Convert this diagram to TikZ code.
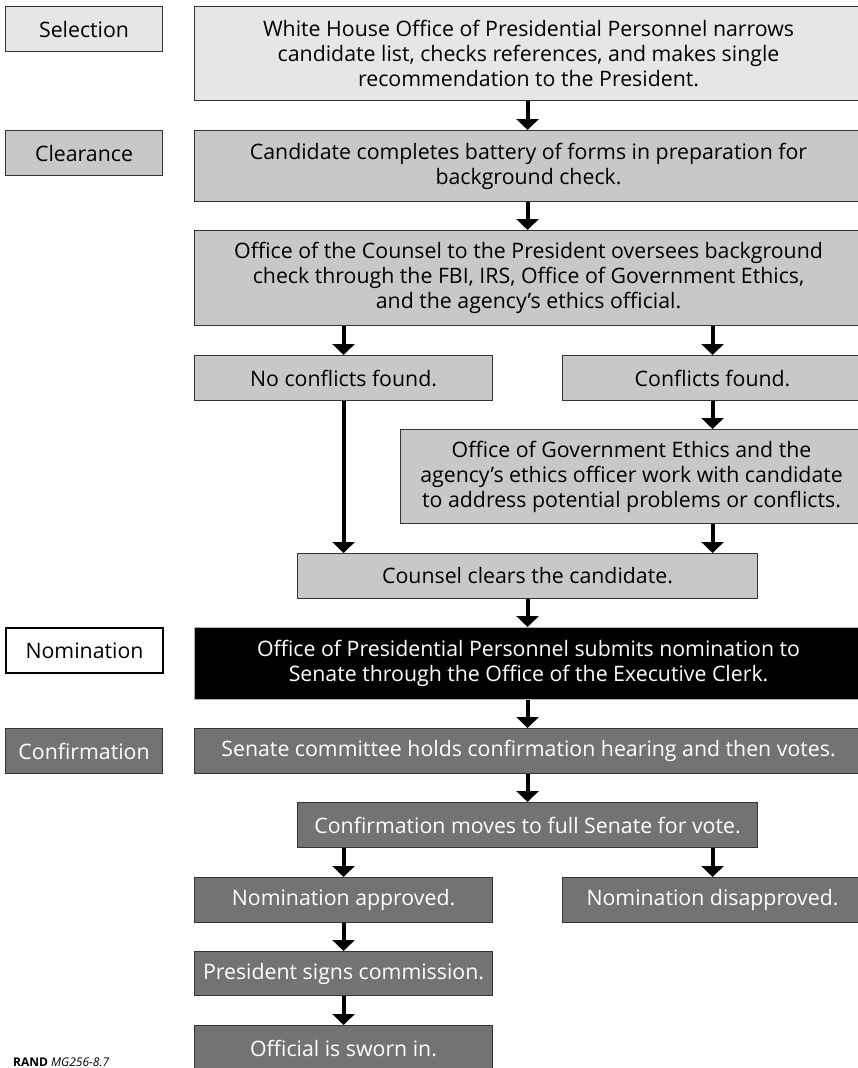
\documentclass[tikz,border=0pt]{standalone}
\usepackage{fontspec}
\setmainfont{Open Sans}
\usetikzlibrary{arrows.meta}
\definecolor{selfill}{HTML}{E6E6E6}
\definecolor{clrfill}{HTML}{C8C8C8}
\definecolor{cnffill}{HTML}{737373}
\definecolor{edge}{HTML}{333333}
\tikzset{
  box/.style={draw=edge, line width=1.1pt, inner sep=0pt, align=center, anchor=north west,
    font=\fontsize{21.3}{25}\selectfont},
  selbox/.style={box, fill=selfill},
  clrbox/.style={box, fill=clrfill},
  nombox/.style={box, fill=black, draw=gray!60, text=white},
  cnfbox/.style={box, fill=cnffill, text=white},
  nomlabel/.style={box, fill=white, draw=black, line width=2pt},
  arr/.style={line width=4pt, -{Triangle[width=22pt,length=11pt]}}
}
\begin{document}
\begin{tikzpicture}[x=1pt,y=-1pt]
\useasboundingbox (0,0) rectangle (858,1068);
% stage labels
\node[selbox, minimum width=157, minimum height=45] (selL) at (5,6) {Selection};
\node[clrbox, minimum width=157, minimum height=45] (clrL) at (5,130) {Clearance};
\node[nomlabel, minimum width=157, minimum height=45] (nomL) at (5,627) {Nomination};
\node[cnfbox, minimum width=157, minimum height=45] (cnfL) at (5,728) {Confirmation};
% main boxes
\node[selbox, minimum width=668, minimum height=94] (selM) at (194,6)
  {White House Office of Presidential Personnel narrows\\candidate list, checks references, and makes single\\recommendation to the President.};
\node[clrbox, minimum width=668, minimum height=71] (clrM) at (194,130)
  {Candidate completes battery of forms in preparation for\\background check.};
\node[clrbox, minimum width=668, minimum height=95] (coun) at (194,230)
  {Office of the Counsel to the President oversees background\\check through the FBI, IRS, Office of Government Ethics,\\and the agency’s ethics official.};
\node[clrbox, minimum width=298, minimum height=45] (noc) at (194,355) {No conflicts found.};
\node[clrbox, minimum width=300, minimum height=45] (conf) at (562,355) {Conflicts found.};
\node[clrbox, minimum width=462, minimum height=94] (oge) at (400,429)
  {Office of Government Ethics and the\\agency’s ethics officer work with candidate\\to address potential problems or conflicts.};
\node[clrbox, minimum width=460, minimum height=45] (clear) at (297,553) {Counsel clears the candidate.};
\node[nombox, minimum width=668, minimum height=72] (nomM) at (194,627)
  {Office of Presidential Personnel submits nomination to\\Senate through the Office of the Executive Clerk.};
\node[cnfbox, minimum width=668, minimum height=45] (sen) at (194,728)
  {Senate committee holds confirmation hearing and then votes.};
\node[cnfbox, minimum width=460, minimum height=45] (full) at (297,802) {Confirmation moves to full Senate for vote.};
\node[cnfbox, minimum width=298, minimum height=45] (appr) at (194,877) {Nomination approved.};
\node[cnfbox, minimum width=300, minimum height=45] (disa) at (562,877) {Nomination disapproved.};
\node[cnfbox, minimum width=298, minimum height=44] (pres) at (194,951) {President signs commission.};
\node[cnfbox, minimum width=298, minimum height=46] (sworn) at (194,1025) {Official is sworn in.};
% source
\node[anchor=base west, inner sep=0pt, font=\fontsize{12}{14}\selectfont] (rand) at (13,1066)
  {\textbf{RAND} \textit{MG256-8.7}};
% arrows
\draw[arr] (selM.south -| clear.center) -- (clrM.north -| clear.center);
\draw[arr] (clrM.south -| clear.center) -- (coun.north -| clear.center);
\draw[arr] (coun.south -| noc.center) -- (noc.north);
\draw[arr] (coun.south -| conf.center) -- (conf.north);
\draw[arr] (conf.south) -- (oge.north -| conf.center);
\draw[arr] (noc.south) -- (clear.north -| noc.center);
\draw[arr] (oge.south -| conf.center) -- (clear.north -| conf.center);
\draw[arr] (clear.south) -- (nomM.north -| clear.center);
\draw[arr] (nomM.south -| clear.center) -- (sen.north -| clear.center);
\draw[arr] (sen.south -| clear.center) -- (full.north);
\draw[arr] (full.south -| appr.center) -- (appr.north);
\draw[arr] (full.south -| conf.center) -- (disa.north -| conf.center);
\draw[arr] (appr.south) -- (pres.north);
\draw[arr] (pres.south) -- (sworn.north);
\end{tikzpicture}
\end{document}
